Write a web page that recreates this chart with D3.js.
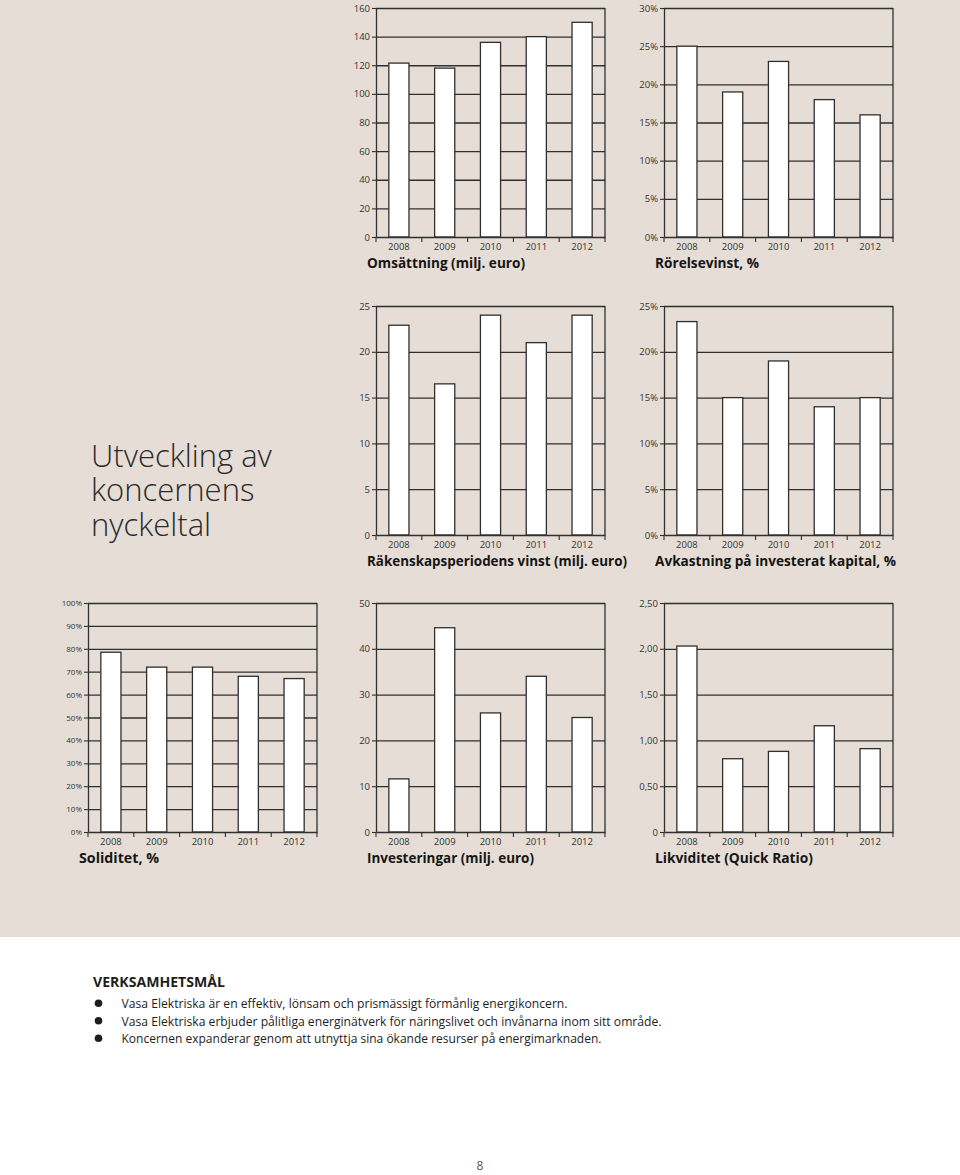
<!DOCTYPE html>
<html><head><meta charset="utf-8">
<script src="https://cdn.jsdelivr.net/npm/d3@7"></script>
<style>
body{margin:0;background:#fff}
svg{display:block}
text{font-family:"Open Sans","Noto Sans",sans-serif}
</style>
</head><body>
<svg id="c" width="960" height="1175"></svg>
<script>
// ---- data ----
const years = ["2008","2009","2010","2011","2012"];

const omsattning    = [121.5, 118, 136, 140, 150];
const rorelsevinst  = [25, 19, 23, 18, 16];
const vinst         = [22.9, 16.5, 24, 21, 24];
const avkastning    = [23.3, 15, 19, 14, 15];
const soliditet     = [78.5, 72, 72, 68, 67];
const investeringar = [11.6, 44.6, 26, 34, 25];
const likviditet    = [2.03, 0.80, 0.88, 1.16, 0.91];

const omsTicks = [0,20,40,60,80,100,120,140,160];
const omsLabels = ["0","20","40","60","80","100","120","140","160"];
const rorTicks = [0,5,10,15,20,25,30];
const rorLabels = ["0%","5%","10%","15%","20%","25%","30%"];
const vinstTicks = [0,5,10,15,20,25];
const vinstLabels = ["0","5","10","15","20","25"];
const avkTicks = [0,5,10,15,20,25];
const avkLabels = ["0%","5%","10%","15%","20%","25%"];
const solTicks = [0,10,20,30,40,50,60,70,80,90,100];
const solLabels = ["0%","10%","20%","30%","40%","50%","60%","70%","80%","90%","100%"];
const invTicks = [0,10,20,30,40,50];
const invLabels = ["0","10","20","30","40","50"];
const likTicks = [0,0.5,1,1.5,2,2.5];
const likLabels = ["0","0,50","1,00","1,50","2,00","2,50"];

const pageTitle = ["Utveckling av","koncernens","nyckeltal"];
const goalsHeading = "VERKSAMHETSMÅL";
const goals = [
  "Vasa Elektriska är en effektiv, lönsam och prismässigt förmånlig energikoncern.",
  "Vasa Elektriska erbjuder pålitliga energinätverk för näringslivet och invånarna inom sitt område.",
  "Koncernen expanderar genom att utnyttja sina ökande resurser på energimarknaden."
];
const pageNumber = "8";

// ---- layout ----
const charts = [
  {title:"Omsättning (milj. euro)", values:omsattning, ticks:omsTicks, labels:omsLabels, x:376, y:8, tw:158, fs:9.5},
  {title:"Rörelsevinst, %", values:rorelsevinst, ticks:rorTicks, labels:rorLabels, x:664, y:8, tw:104, fs:9.5},
  {title:"Räkenskapsperiodens vinst (milj. euro)", values:vinst, ticks:vinstTicks, labels:vinstLabels, x:376, y:306, tw:260, fs:9.5},
  {title:"Avkastning på investerat kapital, %", values:avkastning, ticks:avkTicks, labels:avkLabels, x:664, y:306, tw:241, fs:9.5},
  {title:"Soliditet, %", values:soliditet, ticks:solTicks, labels:solLabels, x:88, y:603, tw:80, fs:8},
  {title:"Investeringar (milj. euro)", values:investeringar, ticks:invTicks, labels:invLabels, x:376, y:603, tw:167, fs:9.5},
  {title:"Likviditet (Quick Ratio)", values:likviditet, ticks:likTicks, labels:likLabels, x:664, y:603, tw:158, fs:9.5}
];
const W = 229, H = 229;
const ink = "#2f2f2f";

const svg = d3.select("#c");
svg.append("rect").attr("width",960).attr("height",937).attr("fill","#e6ded6");

charts.forEach(c => {
  const g = svg.append("g").attr("transform",`translate(${c.x},${c.y})`);
  const y = d3.scaleLinear().domain([0, d3.max(c.ticks)]).range([H,0]);
  const x = d3.scaleBand().domain(years).range([0,W]).paddingInner(0.56).paddingOuter(0.28);

  // gridlines
  g.append("g")
    .call(d3.axisLeft(y).tickValues(c.ticks.filter(t=>t>0)).tickSize(-W).tickFormat(""))
    .call(s=>s.select(".domain").remove())
    .selectAll("line").attr("stroke",ink).attr("stroke-width",1.3);

  // right border
  g.append("line").attr("x1",W).attr("x2",W).attr("y1",y.range()[1]).attr("y2",y.range()[0])
    .attr("stroke",ink).attr("stroke-width",1.3);

  // bars
  g.selectAll("rect.bar").data(c.values).join("rect").attr("class","bar")
    .attr("x",(d,i)=>x(years[i]))
    .attr("y",d=>y(d))
    .attr("width",x.bandwidth())
    .attr("height",d=>y(0)-y(d))
    .attr("fill","#fff").attr("stroke",ink).attr("stroke-width",1.3);

  // y axis
  const ya = g.append("g")
    .call(d3.axisLeft(y).tickValues(c.ticks).tickFormat((d,i)=>c.labels[i]).tickSize(4).tickSizeOuter(0).tickPadding(2));
  ya.select(".domain").attr("stroke",ink).attr("stroke-width",1.3);
  ya.selectAll(".tick line").attr("stroke",ink).attr("stroke-width",1.1);
  ya.selectAll("text").attr("font-size",c.fs).attr("fill","#333").attr("font-family","Open Sans");

  // x axis
  const xa = g.append("g").attr("transform",`translate(0,${H})`)
    .call(d3.axisBottom(x).tickSize(0).tickSizeOuter(0).tickPadding(6));
  xa.select(".domain").attr("stroke",ink).attr("stroke-width",1.3);
  xa.selectAll("text").attr("font-size",9.5).attr("fill","#333").attr("font-family","Open Sans");

  // category boundary ticks
  g.selectAll("line.bt").data(d3.range(years.length+1)).join("line").attr("class","bt")
    .attr("x1",i=>i*x.step()).attr("x2",i=>i*x.step())
    .attr("y1",H).attr("y2",H+5)
    .attr("stroke",ink).attr("stroke-width",1.1);

  // title
  g.append("text").attr("x",-9).attr("y",H+31)
    .attr("font-size",14).attr("font-weight",700).attr("fill","#151515")
    .attr("textLength",c.tw).attr("lengthAdjust","spacingAndGlyphs")
    .text(c.title);
});

// page title (one text block, three lines)
const pt = svg.append("text").attr("x",91).attr("y",466.5)
  .attr("font-size",31).attr("font-weight",300).attr("fill","#2a2a2a");
pt.selectAll("tspan").data(pageTitle).join("tspan")
  .attr("x",91).attr("y",(d,i)=>466.5+i*34.5)
  .text(d=>d);

// goals
svg.append("text").attr("x",93).attr("y",987)
  .attr("font-size",14).attr("font-weight",700).attr("fill","#1e1e1e")
  .attr("textLength",132).attr("lengthAdjust","spacingAndGlyphs")
  .text(goalsHeading);
const goalW = [446, 540, 480];
const gl = svg.append("g");
goals.forEach((t,i)=>{
  const cy = 1003.3 + i*17.5;
  gl.append("circle").attr("cx",98.5).attr("cy",cy).attr("r",3.8).attr("fill","#1e1e1e");
  gl.append("text").attr("x",121.5).attr("y",cy+5)
    .attr("font-size",13.5).attr("fill","#1e1e1e")
    .attr("textLength",goalW[i]).attr("lengthAdjust","spacingAndGlyphs")
    .text(t);
});

svg.append("text").attr("x",480).attr("y",1170).attr("text-anchor","middle")
  .attr("font-size",12).attr("font-weight",400).attr("fill","#555555").text(pageNumber);
</script>
</body></html>
